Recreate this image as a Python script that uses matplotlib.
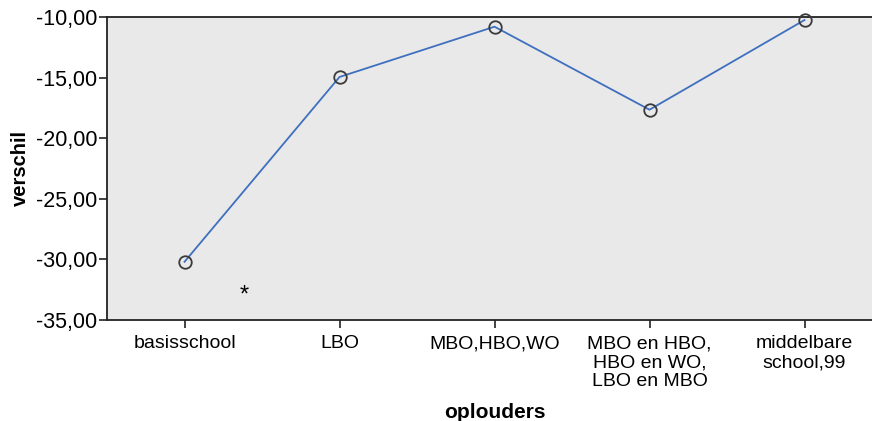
import matplotlib
matplotlib.use("Agg")
from matplotlib import pyplot as plt

# data
categories = ["basisschool", "LBO", "MBO,HBO,WO",
              "MBO en HBO,\nHBO en WO,\nLBO en MBO", "middelbare\nschool,99"]
verschil = [-30.2, -14.95, -10.8, -17.65, -10.25]
yticks = [-35, -30, -25, -20, -15, -10]

plt.rcParams['font.family'] = ['Liberation Sans', 'DejaVu Sans']

fig = plt.figure(figsize=(8.72, 4.21), dpi=100)
ax = fig.add_axes([107/872, 101/421, 775/872, 303/421])
ax.set_facecolor('#e9e9e9')

x = list(range(len(categories)))
ax.plot(x, verschil, color='#3f6fbf', lw=1.3, marker='o', ms=9,
        mfc='none', mec='#3a3a3a', mew=1.3, clip_on=False, zorder=3)

ax.set_xlim(-0.5, 4.5)
ax.set_ylim(-35, -10)
ax.set_xticks(x)
ax.set_xticklabels(categories, fontsize=14, linespacing=1.15)
ax.set_yticks(yticks)
ax.set_yticklabels([('%.2f' % v).replace('.', ',') for v in yticks], fontsize=15.5)
ax.tick_params(axis='x', direction='out', length=6, width=1.2, color='#222222', pad=5)
ax.tick_params(axis='y', direction='out', length=6, width=1.2, color='#222222', pad=1)

for s in ['left', 'bottom', 'top']:
    ax.spines[s].set_linewidth(1.3)
    ax.spines[s].set_color('#222222')
ax.spines['right'].set_visible(False)

ax.text(0.387, -33.0, '*', fontsize=17, ha='center', va='center')

ax.set_ylabel('verschil', fontsize=14.5, fontweight='bold', labelpad=4)
ax.set_xlabel('oplouders', fontsize=15, fontweight='bold', labelpad=9)

fig.savefig('out.png', dpi=100)
